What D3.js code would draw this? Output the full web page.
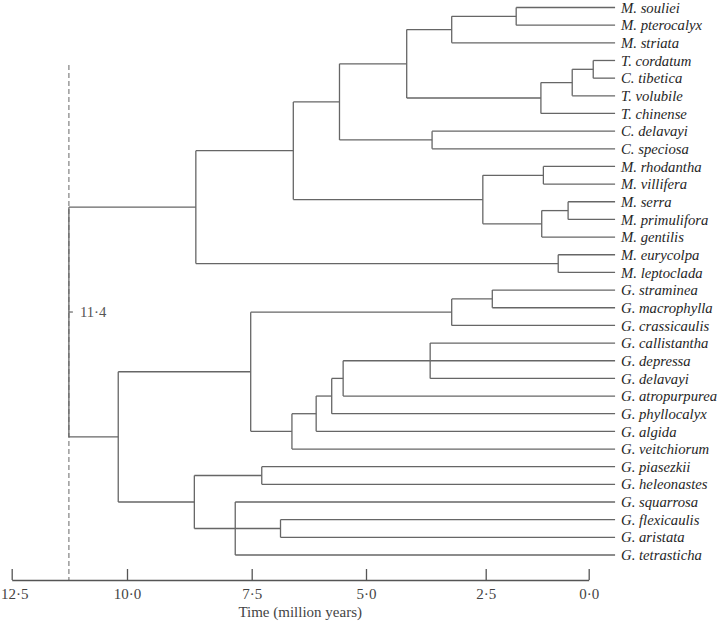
<!DOCTYPE html>
<html>
<head>
<meta charset="utf-8">
<script src="https://cdn.jsdelivr.net/npm/d3@7"></script>
<style>
  html, body { margin: 0; padding: 0; background: #fff; }
  svg { display: block; }
</style>
</head>
<body>
<svg id="chart" width="720" height="624"></svg>
<script>
// ---- DATA ----
const taxa = ["M. souliei","M. pterocalyx","M. striata","T. cordatum","C. tibetica","T. volubile","T. chinense",
  "C. delavayi","C. speciosa","M. rhodantha","M. villifera","M. serra","M. primulifora","M. gentilis",
  "M. eurycolpa","M. leptoclada","G. straminea","G. macrophylla","G. crassicaulis","G. callistantha",
  "G. depressa","G. delavayi","G. atropurpurea","G. phyllocalyx","G. algida","G. veitchiorum",
  "G. piasezkii","G. heleonastes","G. squarrosa","G. flexicaulis","G. aristata","G. tetrasticha"];

// [clade id, age (Ma, read against the drawn axis), children]
const clades = [
  ["c1", 1.76, ["M. souliei","M. pterocalyx"]],
  ["c2", 3.21, ["c1","M. striata"]],
  ["c3", -0.11, ["T. cordatum","C. tibetica"]],
  ["c4", 0.40, ["c3","T. volubile"]],
  ["c5", 1.16, ["c4","T. chinense"]],
  ["c6", 4.15, ["c2","c5"]],
  ["c7", 3.62, ["C. delavayi","C. speciosa"]],
  ["c8", 5.58, ["c6","c7"]],
  ["c9", 1.10, ["M. rhodantha","M. villifera"]],
  ["c10", 0.50, ["M. serra","M. primulifora"]],
  ["c11", 1.14, ["c10","M. gentilis"]],
  ["c12", 2.56, ["c9","c11"]],
  ["c13", 6.59, ["c8","c12"]],
  ["c14", 0.74, ["M. eurycolpa","M. leptoclada"]],
  ["c15", 8.62, ["c13","c14"]],
  ["g1", 2.34, ["G. straminea","G. macrophylla"]],
  ["g2", 3.21, ["g1","G. crassicaulis"]],
  ["g3", 3.66, ["G. callistantha","G. depressa","G. delavayi"]],
  ["g4", 5.50, ["g3","G. atropurpurea"]],
  ["g5", 5.75, ["g4","G. phyllocalyx"]],
  ["g6", 6.09, ["g5","G. algida"]],
  ["g7", 6.62, ["g6","G. veitchiorum"]],
  ["g8", 7.52, ["g2","g7"]],
  ["g9", 7.28, ["G. piasezkii","G. heleonastes"]],
  ["g10", 6.87, ["G. flexicaulis","G. aristata"]],
  ["g11", 7.83, ["G. squarrosa","g10","G. tetrasticha"]],
  ["g12", 8.65, ["g9","g11"]],
  ["g13", 10.19, ["g8","g12"]],
  ["root", 11.26, ["c15","g13"]]
];

const tipAge = -0.64;          // where the leaf branches end, read against the axis
const rootLabel = "11·4";
const timeTicks = [12.5, 10.0, 7.5, 5.0, 2.5, 0.0];
const axisTitle = "Time (million years)";

// ---- BUILD TREE ----
const cladeMap = new Map(clades.map(c => [c[0], {name: c[0], age: c[1], kids: c[2]}]));
function build(name) {
  if (cladeMap.has(name)) {
    const c = cladeMap.get(name);
    return {name: c.name, age: c.age, children: c.kids.map(build)};
  }
  return {name: name, age: tipAge};
}
const root = d3.hierarchy(build("root"));

// ---- SCALES ----
const svg = d3.select("#chart");
const axisY = 580;
const x = d3.scaleLinear()
  .domain(timeTicks)
  .range([11.7, 127, 251.7, 366, 485.7, 588.7]);
const y = d3.scalePoint().domain(taxa).range([7.5, 555]);

root.eachAfter(n => {
  n.py = n.children ? d3.mean(n.children, c => c.py) : y(n.data.name);
  n.px = x(n.data.age);
});

const lineColor = "#666";
const serif = "'Liberation Serif', 'Times New Roman', serif";

// dashed line at root age
svg.append("line")
  .attr("x1", x(root.data.age)).attr("x2", x(root.data.age))
  .attr("y1", 65).attr("y2", axisY)
  .attr("stroke", "#8a8a8a").attr("stroke-width", 1.3)
  .attr("stroke-dasharray", "5,3");

const g = svg.append("g").attr("fill", "none").attr("stroke", lineColor).attr("stroke-width", 1.3);

// verticals
root.descendants().filter(n => n.children).forEach(n => {
  const ys = n.children.map(c => c.py);
  g.append("line")
    .attr("x1", n.px).attr("x2", n.px)
    .attr("y1", d3.min(ys)).attr("y2", d3.max(ys));
});
// horizontals
root.descendants().filter(n => n.parent).forEach(n => {
  g.append("line")
    .attr("x1", n.parent.px).attr("x2", n.px)
    .attr("y1", n.py).attr("y2", n.py);
});

// leaf labels
svg.append("g").selectAll("text")
  .data(root.leaves())
  .join("text")
  .attr("x", d => d.px + 6)
  .attr("y", d => d.py)
  .attr("dy", "0.35em")
  .attr("font-family", serif)
  .attr("font-style", "italic")
  .attr("font-size", 14.7)
  .attr("fill", "#262626")
  .text(d => d.data.name);

// root annotation
svg.append("line")
  .attr("x1", root.px).attr("x2", root.px + 4)
  .attr("y1", root.py - 10).attr("y2", root.py - 10)
  .attr("stroke", lineColor).attr("stroke-width", 1.2);
svg.append("text")
  .attr("x", root.px + 11)
  .attr("y", root.py - 10)
  .attr("dy", "0.35em")
  .attr("font-family", serif)
  .attr("font-size", 14.7)
  .attr("fill", "#555")
  .text(rootLabel);

// axis
const axis = d3.axisBottom(x)
  .tickValues(timeTicks)
  .tickSizeInner(-11)
  .tickSizeOuter(0)
  .tickPadding(8)
  .tickFormat(d => d3.format(".1f")(d).replace(".", "·"));

const ax = svg.append("g").attr("transform", `translate(0,${axisY})`).call(axis);
ax.select(".domain").attr("stroke", "#555").attr("stroke-width", 1.3);
ax.selectAll(".tick line").attr("stroke", "#555").attr("stroke-width", 1.3);
ax.selectAll(".tick text")
  .attr("font-family", serif)
  .attr("font-size", 15)
  .attr("fill", "#444");
// keep the leftmost tick label inside the picture
ax.selectAll(".tick text").filter((d, i) => i === 0)
  .attr("text-anchor", "start")
  .attr("x", -x(timeTicks[0]) + 0.5);

svg.append("text")
  .attr("x", (x(timeTicks[0]) + x(timeTicks[timeTicks.length - 1])) / 2)
  .attr("y", 617)
  .attr("text-anchor", "middle")
  .attr("font-family", serif)
  .attr("font-size", 15)
  .attr("fill", "#444")
  .text(axisTitle);
</script>
</body>
</html>
